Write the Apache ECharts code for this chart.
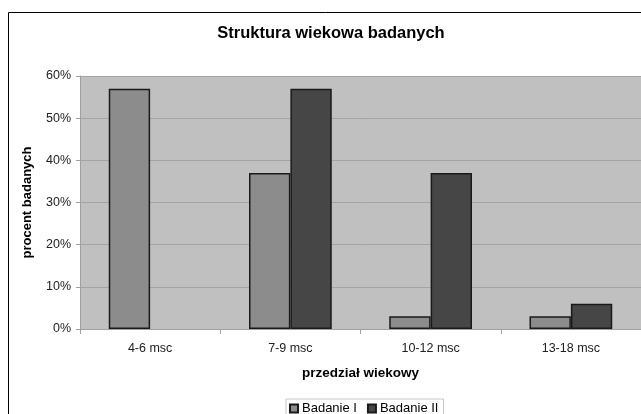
<!DOCTYPE html>
<html>
<head>
<meta charset="utf-8">
<script src="https://cdn.jsdelivr.net/npm/echarts@6/dist/echarts.min.js"></script>
<style>
html,body{margin:0;padding:0;background:#fff;}
#c{width:641px;height:414px;}
</style>
</head>
<body>
<div id="c"></div>
<script>
const categories = ['4-6 msc', '7-9 msc', '10-12 msc', '13-18 msc'];
const badanie1 = [57, 37, 3, 3];
const badanie2 = [0, 57, 37, 6];
const seriesNames = ['Badanie I', 'Badanie II'];
const titleText = 'Struktura wiekowa badanych';
const xTitle = 'przedział wiekowy';
const yTitle = 'procent badanych';

// zero-height bars are not drawn with an outline in the reference
const toData = arr => arr.map(v => v === 0 ? {value: v, itemStyle: {borderWidth: 0, opacity: 0}} : v);

const chart = echarts.init(document.getElementById('c'), null, {renderer: 'canvas'});
const font = '"Liberation Sans", Arial, sans-serif';
chart.setOption({
  animation: false,
  backgroundColor: '#ffffff',
  textStyle: {fontFamily: font},
  graphic: [{
    type: 'rect', z: -1, silent: true,
    shape: {x: 8.5, y: 12.5, width: 700, height: 500},
    style: {fill: 'none', stroke: '#000', lineWidth: 1}
  }],
  title: {
    text: titleText, left: 326, top: 20, textAlign: 'center',
    textStyle: {fontFamily: font, fontSize: 16.5, fontWeight: 'bold', color: '#000'}
  },
  legend: {
    data: seriesNames, left: 286, top: 399,
    itemWidth: 8, itemHeight: 8, itemGap: 10, icon: 'rect',
    borderColor: '#c8c8c8', borderWidth: 1, padding: [3, 5, 3, 3],
    textStyle: {fontFamily: font, fontSize: 13, color: '#000', padding: [0, 0, 0, -1]}
  },
  grid: {left: 80, top: 76, width: 563, height: 253, show: true, backgroundColor: '#c0c0c0', borderWidth: 0},
  xAxis: {
    type: 'category', data: categories,
    name: xTitle, nameLocation: 'middle', nameGap: 37,
    nameTextStyle: {fontFamily: font, fontSize: 13.5, fontWeight: 'bold', color: '#000'},
    axisLine: {lineStyle: {color: '#a0a0a0', width: 1}},
    axisTick: {show: true, length: 5, lineStyle: {color: '#a0a0a0'}},
    axisLabel: {fontFamily: font, fontSize: 12.5, color: '#222', margin: 13}
  },
  yAxis: {
    type: 'value', min: 0, max: 60, interval: 10,
    name: yTitle, nameLocation: 'middle', nameGap: 46,
    nameTextStyle: {fontFamily: font, fontSize: 13, fontWeight: 'bold', color: '#000'},
    axisLine: {show: true, lineStyle: {color: '#a0a0a0'}},
    axisTick: {show: true, length: 4, lineStyle: {color: '#a0a0a0'}},
    axisLabel: {fontFamily: font, fontSize: 12.5, color: '#222', margin: 9, formatter: '{value}%'},
    splitLine: {lineStyle: {color: '#a4a4a4', width: 1}}
  },
  series: [
    {name: seriesNames[0], type: 'bar', data: toData(badanie1), barGap: '0%', barCategoryGap: '41%',
     itemStyle: {color: '#8c8c8c', borderColor: '#1a1a1a', borderWidth: 1.5}},
    {name: seriesNames[1], type: 'bar', data: toData(badanie2), barGap: '0%', barCategoryGap: '41%',
     itemStyle: {color: '#464646', borderColor: '#1a1a1a', borderWidth: 1.5}}
  ]
});
</script>
</body>
</html>
